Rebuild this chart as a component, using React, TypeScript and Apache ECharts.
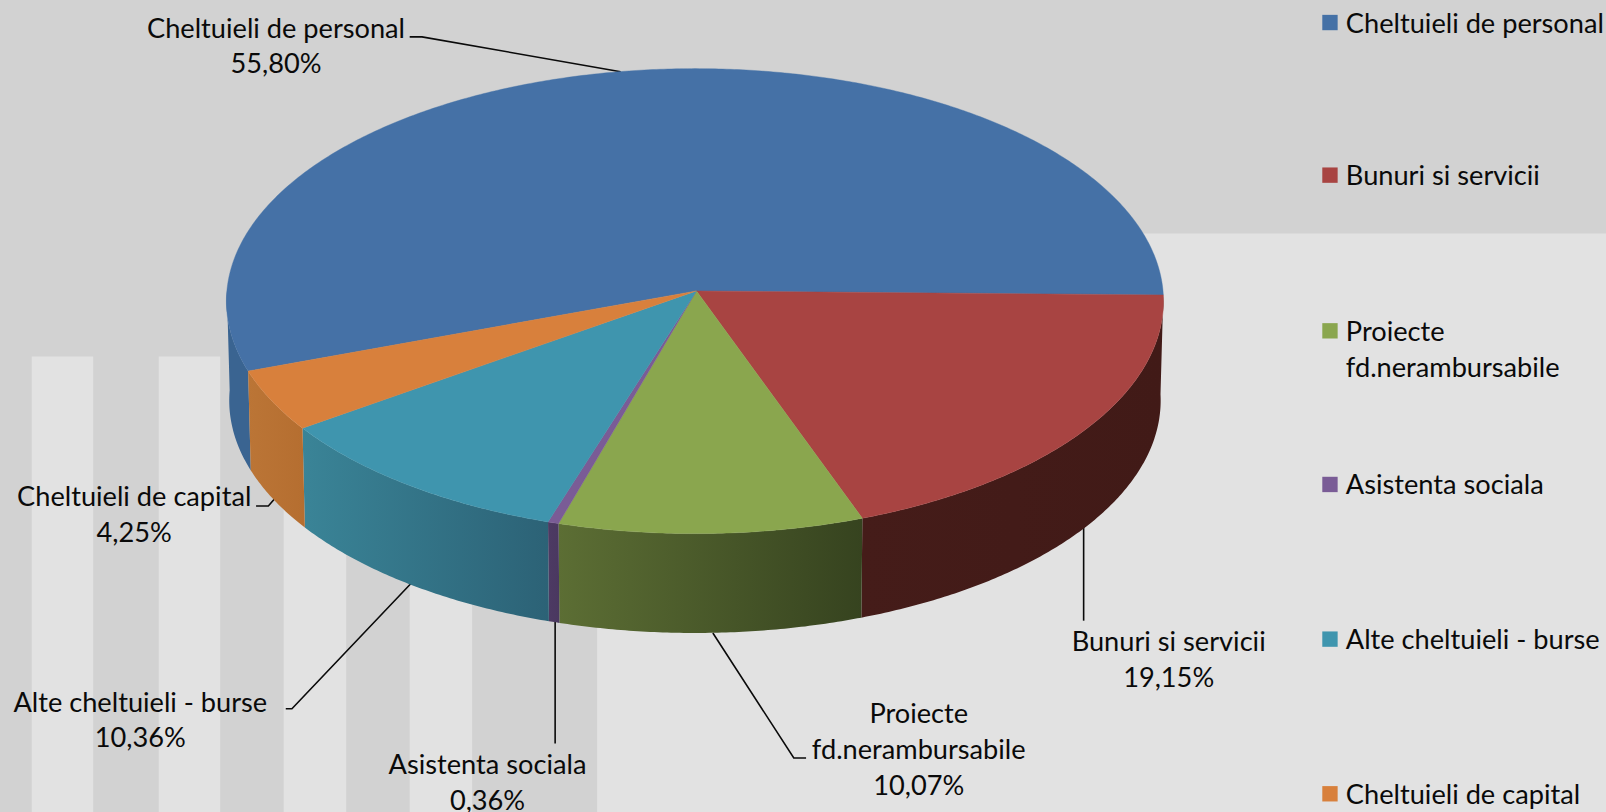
import React, { useEffect, useRef } from "react";
import * as echarts from "echarts";

const categories = ["Cheltuieli de personal", "Bunuri si servicii", "Proiecte fd.nerambursabile", "Asistenta sociala", "Alte cheltuieli - burse", "Cheltuieli de capital"];
const shares = [55.8, 19.15, 10.07, 0.36, 10.36, 4.25];
const wrappedLegend = ["Cheltuieli de personal", "Bunuri si servicii", "Proiecte\nfd.nerambursabile", "Asistenta sociala", "Alte cheltuieli - burse", "Cheltuieli de capital"];
const wrappedLabels = ["Cheltuieli de personal", "Bunuri si servicii", "Proiecte\nfd.nerambursabile", "Asistenta sociala", "Alte cheltuieli - burse", "Cheltuieli de capital"];
const topColors = ["#4571a6", "#a84442", "#8aa64e", "#7a5c96", "#3f95ae", "#d8803c"];
const sideColors = [["#3a6491", "#3a6491"], ["#451c19", "#411a17"], ["#5c6e34", "#36431f"], ["#4d3a63", "#4a3860"], ["#3a8497", "#2c6276"], ["#bb7536", "#b56e30"]];

const K = 1606 / 1568; // reference layout was measured on a 1568-wide view
const px = (v: number) => v * K;
const FONT = "Lato";
const FS = 27.2;

const labelPos = [[269.5, 44], [1141, 643], [897, 730.5], [476, 763], [137, 702], [131, 501]];
const leaders = [
  [[400, 36], [412, 36], [606, 70]],
  [[1058, 512], [1058, 606]],
  [[696, 618], [775, 740], [787, 740]],
  [[542, 607], [542, 726]],
  [[401, 570], [285, 692], [279, 692]],
  [[250, 494], [262, 494], [269, 486]],
];
const legendY = [22, 171, 323, 473, 624, 775];
const stripes = [[31, 91], [155, 215], [277, 338], [400, 461]];

// pie geometry: a circle seen with a slight perspective (front edge nearer)
const CX = px(678.5), CY = px(284), RX = px(457), RY_FRONT = px(237), RY_BACK = px(217), DEPTH = px(97), SHRINK = 0.994;
const APEX_X = px(680);
const P = (RY_FRONT - RY_BACK) / (RY_FRONT + RY_BACK);
const G = (2 * RY_FRONT * RY_BACK) / (RY_FRONT + RY_BACK);
const START = 1;

const total = shares.reduce((a, b) => a + b, 0);
const fmt = (v: number) => v.toFixed(2).replace(".", ",") + "%";

function topPt(deg: number, depth = 0, k = 1) {
  const t = (deg * Math.PI) / 180;
  const s = Math.sin(t);
  const w = 1 - P * s;
  return [CX + (RX * k * Math.cos(t)) / w, CY + depth + (G * s) / w];
}
function arc(a: number, b: number, depth = 0, k = 1) {
  const n = Math.max(2, Math.ceil(Math.abs(b - a) * 2));
  const pts: number[][] = [];
  for (let i = 0; i <= n; i++) pts.push(topPt(a + ((b - a) * i) / n, depth, k));
  return pts;
}
function sliceRange(i: number) {
  // the first slice ends where the second begins, just below the right-hand extreme
  let before = 0;
  for (let j = 1; j < i; j++) before += shares[j];
  if (i === 0) {
    const end = START + 360;
    return [end - (shares[0] / total) * 360, end];
  }
  const a = START + (before / total) * 360;
  return [a, a + (shares[i] / total) * 360];
}

export default function App() {
  const ref = useRef<HTMLDivElement>(null);
  useEffect(() => {
    document.body.style.margin = "0";
    const chart = echarts.init(ref.current!, undefined, { renderer: "svg" });
    const textStyle = { fontFamily: FONT, fontSize: FS, fill: "#0a0a0a", lineHeight: px(35) };
    const graphic: any[] = [
      { type: "rect", z: -3, shape: { x: 0, y: 0, width: 1606, height: 812 }, style: { fill: "#d2d2d2" } },
      { type: "rect", z: -2, shape: { x: px(583), y: px(228), width: 1606 - px(583), height: 812 - px(228) }, style: { fill: "#e2e2e2" } },
      ...stripes.map(([a, b]) => ({ type: "rect", z: -2, shape: { x: px(a), y: px(348), width: px(b - a), height: 812 - px(348) }, style: { fill: "#e2e2e2" } })),
      ...leaders.map((pts) => ({ type: "polyline", z: 1, shape: { points: pts.map(([x, y]) => [px(x), px(y)]) }, style: { stroke: "#0a0a0a", lineWidth: 1.6, fill: "none" } })),
      ...categories.map((_, i) => ({
        type: "text", z: 5, x: px(labelPos[i][0]), y: px(labelPos[i][1]),
        style: { ...textStyle, text: `${wrappedLabels[i]}\n${fmt(shares[i])}`, align: "center", verticalAlign: "middle" },
      })),
      ...categories.map((_, i) => ({ type: "rect", z: 5, shape: { x: px(1291), y: px(legendY[i] - 7.5), width: px(15), height: px(15) }, style: { fill: topColors[i] } })),
      ...categories.map((_, i) => ({
        type: "text", z: 5, x: px(1314), y: px(legendY[i] - 18),
        style: { ...textStyle, text: wrappedLegend[i], align: "left", verticalAlign: "top" },
      })),
    ];
    chart.setOption({
      animation: false,
      backgroundColor: "#d2d2d2",
      graphic,
      series: [{
        type: "custom",
        coordinateSystem: "none",
        silent: true,
        z: 2,
        data: shares.map((v, i) => ({ name: categories[i], value: [v] })),
        renderItem: (params: any) => {
          const i = params.dataIndex;
          const [a, b] = sliceRange(i);
          const children: any[] = [];
          if (a < 180) {
            const e = Math.min(b, 180);
            const pts = [...arc(a, e), ...arc(a, e, DEPTH, SHRINK).reverse()];
            children.push({
              type: "polygon", shape: { points: pts },
              style: { fill: new echarts.graphic.LinearGradient(0, 0, 1, 0, [{ offset: 0, color: sideColors[i][0] }, { offset: 1, color: sideColors[i][1] }]) },
            });
          }
          children.push({
            type: "polygon", shape: { points: [[APEX_X, CY], ...arc(a, b)] },
            style: { fill: topColors[i], stroke: topColors[i], lineWidth: 0.4 },
          });
          return { type: "group", children };
        },
      }],
    });
    return () => chart.dispose();
  }, []);
  return <div ref={ref} style={{ width: 1606, height: 812 }} />;
}
